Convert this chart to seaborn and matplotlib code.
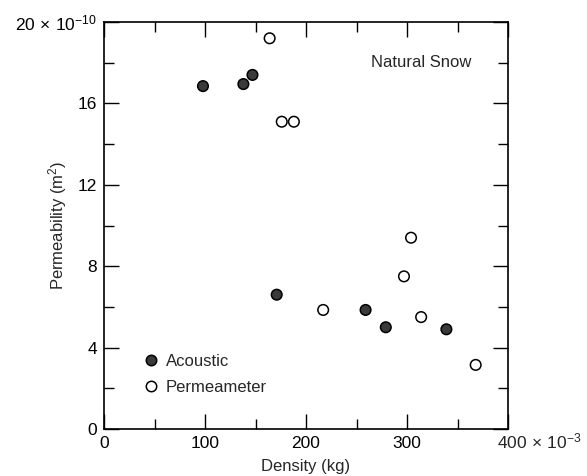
import pandas as pd
import seaborn as sns
import matplotlib.pyplot as plt
from matplotlib.lines import Line2D
from matplotlib.ticker import MultipleLocator, FixedLocator, FixedFormatter

# values (density x1e-3 kg, permeability x1e-10 m^2)
acoustic_density = [98, 138, 147, 171, 259, 279, 339]
acoustic_perm = [16.85, 16.95, 17.4, 6.6, 5.85, 5.0, 4.9]
perm_density = [164, 176, 188, 217, 297, 304, 314, 368]
perm_perm = [19.2, 15.1, 15.1, 5.85, 7.5, 9.4, 5.5, 3.15]

x_ticks = [0, 100, 200, 300, 400]
x_ticklabels = ['0', '100', '200', '300', '']
y_ticks = [0, 4, 8, 12, 16, 20]
y_ticklabels = ['0', '4', '8', '12', '16', r'20$\,\times\,10^{-10}$']

df = pd.DataFrame({
    'Density': acoustic_density + perm_density,
    'Permeability': acoustic_perm + perm_perm,
    'Method': ['Acoustic'] * len(acoustic_density) + ['Permeameter'] * len(perm_density),
})

sns.set_style('ticks')
plt.rcParams['font.family'] = ['Liberation Sans', 'DejaVu Sans']
plt.rcParams['mathtext.fontset'] = 'custom'
plt.rcParams['mathtext.rm'] = 'Liberation Sans'
plt.rcParams['mathtext.it'] = 'Liberation Sans'

fig = plt.figure(figsize=(5.87, 4.76), dpi=100)
ax = fig.add_axes([104 / 587, 47 / 476, 404 / 587, 407 / 476])

palette = {'Acoustic': '#3a3a3a', 'Permeameter': 'white'}
sns.scatterplot(data=df, x='Density', y='Permeability', hue='Method', palette=palette,
                edgecolor='black', linewidth=1.1, s=58, legend=False, ax=ax, zorder=3)

ax.set_xlim(0, 400)
ax.set_ylim(0, 20)
ax.xaxis.set_major_locator(FixedLocator(x_ticks))
ax.xaxis.set_major_formatter(FixedFormatter(x_ticklabels))
ax.xaxis.set_minor_locator(MultipleLocator(50))
ax.yaxis.set_major_locator(FixedLocator(y_ticks))
ax.yaxis.set_major_formatter(FixedFormatter(y_ticklabels))
ax.yaxis.set_minor_locator(MultipleLocator(2))

ax.tick_params(which='both', direction='in', top=True, right=True, width=1.0,
               color='black', labelsize=12.5, labelcolor='black')
ax.tick_params(which='major', length=11, pad=5)
ax.tick_params(which='minor', length=7)
for side in ax.spines.values():
    side.set_color('black')
    side.set_linewidth(1.2)

# last x tick label carries the scale factor, on the same baseline as the others
ax.annotate(r'400$\,\times\,10^{-3}$', xy=(1, 0), xycoords='axes fraction',
            xytext=(-8, -14.3), textcoords='offset points', ha='left', va='baseline',
            fontsize=12.5)

ax.set_xlabel('Density (kg)', fontsize=12, labelpad=6)
ax.set_ylabel('Permeability (m$^2$)', fontsize=12)
ax.yaxis.set_label_coords(-0.086, 0.5)

ax.text(314, 18.0, 'Natural Snow', ha='center', va='center', fontsize=12)

handles = [
    Line2D([], [], marker='o', linestyle='none', markersize=7.5, markerfacecolor='#3a3a3a',
           markeredgecolor='black', markeredgewidth=1.1, label='Acoustic'),
    Line2D([], [], marker='o', linestyle='none', markersize=7.5, markerfacecolor='white',
           markeredgecolor='black', markeredgewidth=1.1, label='Permeameter'),
]
ax.legend(handles=handles, loc='lower left', bbox_to_anchor=(0.08, 0.068), frameon=False,
          fontsize=12, handlelength=1.0, handletextpad=0.35, labelspacing=0.62, borderaxespad=0)

fig.savefig('out.png', dpi=100, facecolor='white')
